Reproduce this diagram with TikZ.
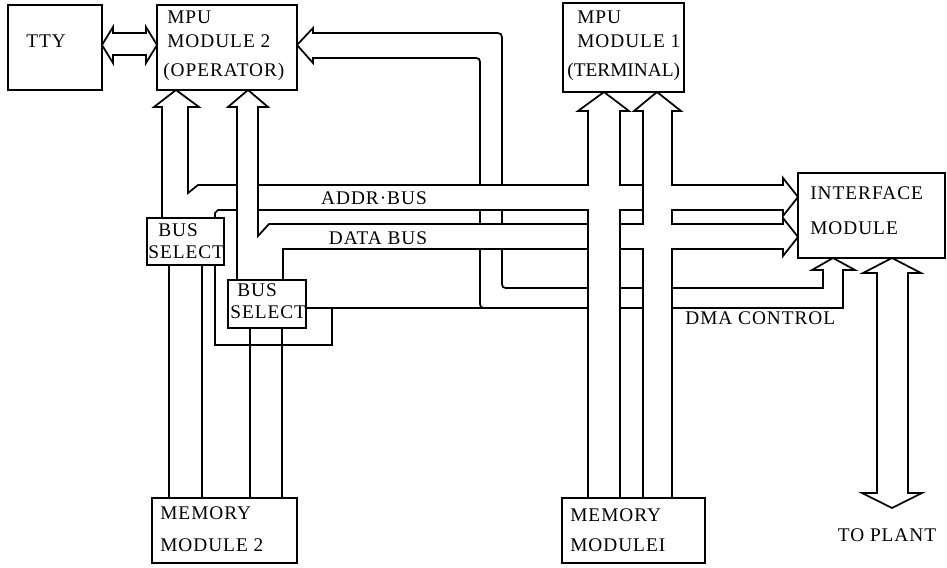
\documentclass[tikz,border=0pt]{standalone}
\usepackage{fontspec}
\setmainfont{Liberation Serif}[LetterSpace=5]
\usepackage{tikz}
\usetikzlibrary{fit}
\tikzset{
  blockbox/.style={
    draw,
    line width=1pt,
    inner sep=0pt
  },
  busline/.style={
    line width=1pt,
    line join=miter
  },
  lbl/.style={
    inner sep=0pt,
    anchor=base west,
    font=\fontsize{11}{13}\selectfont
  },
  clbl/.style={
    lbl,
    anchor=base
  }
}

\begin{document}
\begin{tikzpicture}[x=0.02cm, y=-0.02cm]
  \useasboundingbox (0,0) rectangle (947,568);

  % Modules
  \node[blockbox, fit={(8,5)(102,90)}] (tty) {};
  \node[blockbox, fit={(157,5)(297,90)}] (mpuB) {};
  \node[blockbox, fit={(563,3)(684,92)}] (mpuA) {};
  \node[blockbox, fit={(798,173)(945,258)}] (iface) {};
  \node[blockbox, fit={(147,218)(224,265)}] (selA) {};
  \node[blockbox, fit={(228,280)(306,328)}] (selB) {};
  \node[blockbox, fit={(152,498)(297,563)}] (memB) {};
  \node[blockbox, fit={(562,498)(705,563)}] (memA) {};

  % Module texts
  \node[lbl] (ttytxt) at (26,48) {TTY};
  \node[lbl] (mpuBa) at (167,24) {MPU};
  \node[lbl] (mpuBb) at (167,48) {MODULE 2};
  \node[lbl] (mpuBc) at (163,76) {(OPERATOR)};
  \node[lbl] (mpuAa) at (577,24) {MPU};
  \node[lbl] (mpuAb) at (577,48) {MODULE 1};
  \node[lbl] (mpuAc) at (567,76) {\addfontfeatures{LetterSpace=0}(TERMINAL)};
  \node[lbl] (ifacea) at (810,199) {INTERFACE};
  \node[lbl] (ifaceb) at (810,234) {MODULE};
  \node[lbl] (selAa) at (158,236) {BUS};
  \node[lbl] (selAb) at (148,258) {SELECT};
  \node[lbl] (selBa) at (237,296) {BUS};
  \node[lbl] (selBb) at (230,318) {SELECT};
  \node[lbl] (memBa) at (160,519) {MEMORY};
  \node[lbl] (memBb) at (160,551) {MODULE 2};
  \node[lbl] (memAa) at (570,521) {MEMORY};
  \node[lbl] (memAb) at (570,551) {MODULEI};

  % Bus names
  \node[clbl] (addrtxt) at (374,204) {ADDR·BUS};
  \node[clbl] (datatxt) at (378,244) {DATA BUS};
  \node[lbl] (dmatxt) at (685,324) {DMA CONTROL};
  \node[clbl] (planttxt) at (887,541) {TO PLANT};

  % TTY link
  \draw[busline] (102,45) -- (113,27) -- (113,33) -- (146,33) -- (146,27) -- (157,45)
    -- (146,63) -- (146,55) -- (113,55) -- (113,63) -- cycle;

  % Select A up to MPU 2, addr branch
  \draw[busline] (162,218) -- (162,107) -- (154,107) -- (176,90) -- (199,107) -- (188,107)
    -- (188,193) -- (198,185) -- (237,185);
  \draw[busline] (215,218) -- (215,213) -- (218,210) -- (237,210);

  % Select B up to MPU 2, data branch
  \draw[busline] (237,280) -- (237,107) -- (228,107) -- (248,90) -- (268,107) -- (258,107)
    -- (258,236) -- (269,224) -- (588,224);
  \draw[busline] (283,280) -- (283,249) -- (588,249);

  % Addr bus into MPU 1 (left)
  \draw[busline] (258,185) -- (588,185) -- (588,111) -- (578,111) -- (604,92) -- (629,111)
    -- (620,111) -- (620,185) -- (643,185);
  \draw[busline] (258,210) -- (588,210) -- (588,498);
  \draw[busline] (643,210) -- (620,210) -- (620,498);

  % MPU 1 (right) with addr and data to interface
  \draw[busline] (620,224) -- (643,224) -- (643,111) -- (634,111) -- (657,92) -- (681,111)
    -- (672,111) -- (672,185) -- (783,185) -- (783,178) -- (798,197) -- (783,216)
    -- (783,210) -- (672,210) -- (672,224) -- (783,224) -- (783,218) -- (798,237)
    -- (783,256) -- (783,249) -- (672,249) -- (672,498);
  \draw[busline] (620,249) -- (643,249) -- (643,498);

  % Return bus into MPU 2
  \draw[busline] (502,185) -- (502,42) .. controls (502,33) .. (493,33) -- (313,33) -- (313,28)
    -- (297,45) -- (313,63) -- (313,58) -- (472,58) .. controls (480,58) .. (480,66) -- (480,185);
  \draw[busline] (480,210) -- (480,224) (502,210) -- (502,224);
  \draw[busline] (502,249) -- (502,280) .. controls (502,288) .. (510,288) -- (588,288);
  \draw[busline] (480,249) -- (480,300) .. controls (480,308) .. (488,308);

  % DMA control
  \draw[busline] (306,308) -- (588,308);
  \draw[busline] (215,265) -- (215,345) -- (332,345) -- (332,308);
  \draw[busline] (620,288) -- (643,288) (620,308) -- (643,308);
  \draw[busline] (672,288) -- (823,288) -- (823,270) -- (812,270) -- (833,258) -- (855,270)
    -- (843,270) -- (843,308) -- (672,308);

  % Memory module 2 lines
  \draw[busline] (169,265) -- (169,498) (202,265) -- (202,498);
  \draw[busline] (250,328) -- (250,498) (282,328) -- (282,498);

  % To plant
  \draw[busline] (877,273) -- (863,273) -- (892,258) -- (921,273) -- (908,273) -- (908,493)
    -- (922,493) -- (892,508) -- (862,493) -- (877,493) -- cycle;
\end{tikzpicture}
\end{document}
